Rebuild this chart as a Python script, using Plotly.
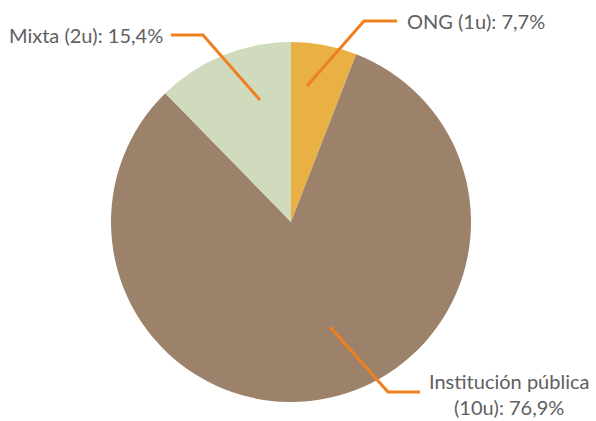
import plotly.graph_objects as go

categories = ["ONG", "Institución pública", "Mixta"]
slice_values = [5.9, 81.8, 12.3]
label_texts = ["ONG (1u): 7,7%", "Institución pública<br>(10u): 76,9%", "Mixta (2u): 15,4%"]
colors = ["#E9B043", "#9C826B", "#CFDBBC"]

W, H = 596, 421
cx, cy, r = 291, 222, 180

def px(x):
    return x / W

def py(y):
    return 1 - y / H

fig = go.Figure(go.Pie(
    labels=categories,
    values=slice_values,
    sort=False,
    direction="clockwise",
    rotation=0,
    textinfo="none",
    hoverinfo="label+percent",
    marker=dict(colors=colors, line=dict(width=0)),
    showlegend=False,
    domain=dict(x=[px(cx - r), px(cx + r)], y=[py(cy + r), py(cy - r)]),
))

line_color = "#F07F1F"
leaders = [
    [(307, 86), (364, 21), (397, 21)],
    [(330, 327), (388, 392), (420, 392)],
    [(260, 100), (203, 35), (171, 35)],
]
for pts in leaders:
    path = "M " + " L ".join(f"{px(x)},{py(y)}" for x, y in pts)
    fig.add_shape(type="path", path=path, xref="paper", yref="paper",
                  line=dict(color=line_color, width=3))

font = dict(family="Lato, 'Open Sans', sans-serif", size=20, color="#606060")
fig.add_annotation(x=px(405), y=py(21), text=label_texts[0], xref="paper", yref="paper",
                   xanchor="left", yanchor="middle", showarrow=False, font=font)
fig.add_annotation(x=px(509), y=py(394), text=label_texts[1], xref="paper", yref="paper",
                   xanchor="center", yanchor="middle", showarrow=False, font=font, align="center")
fig.add_annotation(x=px(165), y=py(35), text=label_texts[2], xref="paper", yref="paper",
                   xanchor="right", yanchor="middle", showarrow=False, font=font)

fig.update_layout(width=W, height=H, margin=dict(l=0, r=0, t=0, b=0),
                  paper_bgcolor="white", plot_bgcolor="white")
fig.write_html("out.html", config={"displayModeBar": False},
               post_script="document.body.style.margin='0px';")
